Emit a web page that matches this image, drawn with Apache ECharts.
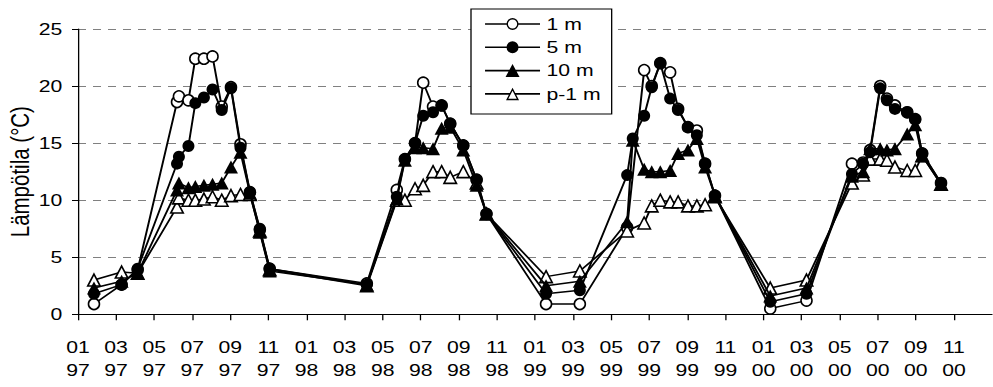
<!DOCTYPE html>
<html>
<head>
<meta charset="utf-8">
<title>Lämpötila 1997–2000</title>
<script src="https://cdn.jsdelivr.net/npm/echarts@6/dist/echarts.min.js"></script>
<style>
  html, body { margin: 0; padding: 0; background: #fff; overflow: hidden; }
  #wrap { width: 993px; height: 387px; overflow: hidden; }
  #chart { width: 764px; height: 387px; transform-origin: 0 0; }
</style>
</head>
<body>
<div id="wrap"><div id="chart"></div></div>
<script>
// Sampling dates (ISO)
const sampleDates = [
  '1997-01-27', '1997-03-10', '1997-04-05', '1997-06-07', '1997-06-10', '1997-06-25',
  '1997-07-06', '1997-07-20', '1997-08-03', '1997-08-18', '1997-09-02', '1997-09-17',
  '1997-10-02', '1997-10-18', '1997-11-03',
  '1998-04-06', '1998-05-24', '1998-06-06', '1998-06-22', '1998-07-05', '1998-07-21',
  '1998-08-04', '1998-08-18', '1998-09-08', '1998-09-29', '1998-10-15',
  '1999-01-19', '1999-03-12', '1999-05-27', '1999-06-05', '1999-06-23', '1999-07-05',
  '1999-07-19', '1999-08-04', '1999-08-17', '1999-09-02', '1999-09-16', '1999-09-29',
  '1999-10-15',
  '2000-01-12', '2000-03-09', '2000-05-21', '2000-06-08', '2000-06-19', '2000-07-05',
  '2000-07-16', '2000-07-29', '2000-08-18', '2000-08-31', '2000-09-11', '2000-10-11'
];

// Water temperature (°C) per depth; null = no measurement
const temp1m = [
  0.9, 2.6, 3.9, 18.6, 19.1, 18.75, 22.4, 22.4, 22.6, 18.2, 19.9, 14.9, 10.7, 7.4, 4.0,
  2.7, 10.9, 13.6, 15.0, 20.3, 18.2, 18.3, 16.7, 14.8, 11.8, 8.8,
  0.9, 0.9, 7.6, null, 21.4, 20.0, 22.0, 21.2, 18.0, 16.4, 16.1, 13.2, 10.4,
  0.5, 1.2, 13.2, 13.3, 14.4, 20.0, 18.9, 18.3, 17.7, 17.1, 14.1, 11.5
];
const temp5m = [
  1.8, 2.6, 4.0, 13.2, 13.8, 14.75, 18.5, 19.0, 19.7, 17.9, 19.8, 14.6, 10.7, 7.5, 4.0,
  2.6, 10.3, 13.6, 15.0, 17.4, 17.7, 18.3, 16.7, 14.8, 11.8, 8.8,
  1.8, 2.1, 12.2, 15.4, 17.4, 19.9, 22.0, 18.9, 17.9, 16.4, 15.7, 13.2, 10.4,
  1.1, 1.8, 12.3, 13.2, 14.2, 19.8, 18.75, 18.0, 17.7, 17.1, 14.1, 11.5
];
const temp10m = [
  2.3, 2.9, 3.6, 10.9, 11.5, 11.1, 11.2, 11.3, 11.4, 11.5, 12.9, 14.2, 10.6, 7.2, 3.8,
  2.6, 10.1, 13.5, 14.6, 14.6, 14.5, 16.3, 16.4, 14.4, 11.3, 8.8,
  2.5, 2.9, 8.1, 15.25, 12.7, 12.5, 12.5, 12.6, 14.1, 14.4, 15.4, 12.9, 10.4,
  1.6, 2.3, 12.1, 12.5, 14.5, 14.5, 14.4, 14.5, 15.8, 16.6, 13.9, 11.4
];
const tempP1m = [
  3.0, 3.7, 3.6, 9.4, 10.2, 10.0, 10.0, 10.1, 10.3, 10.0, 10.4, 10.5, 10.5, 7.3, 3.9,
  2.5, 10.0, 10.0, 11.0, 11.3, 12.5, 12.5, 12.0, 12.5, 11.5, 8.8,
  3.3, 3.8, 7.3, null, 8.0, 9.5, 10.0, 9.85, 9.85, 9.5, 9.5, 9.6, 10.3,
  2.3, 3.0, 11.5, 12.2, 13.6, 13.6, 13.5, 12.9, 12.6, 12.6, 13.9, 11.4
];

const seriesNames = ['1 m', '5 m', '10 m', 'p-1 m'];
const yTicks = [0, 5, 10, 15, 20, 25];

// x axis runs in months since January 1997, ticks every second month
const X_START_YEAR = 1997;
const X_MONTHS = 48;

// ---------------------------------------------------------------------------
// The drawing is laid out on a narrower surface and widened horizontally,
// which gives the wide lettering; symbols are pre-compressed to stay round.
const SX = 993 / 764;
document.getElementById('chart').style.transform = 'scaleX(' + SX + ')';
const FONT = '"Liberation Sans", Arial, Helvetica, sans-serif';

function monthPos(iso) {
  const [y, m, d] = iso.split('-').map(Number);
  const dim = new Date(y, m, 0).getDate();
  return (y - X_START_YEAR) * 12 + (m - 1) + (d - 1) / dim;
}
function toPoints(values) {
  const pts = [];
  sampleDates.forEach((d, i) => {
    if (values[i] !== null && values[i] !== undefined) pts.push([monthPos(d), values[i]]);
  });
  return pts;
}
const pad2 = n => String(n).padStart(2, '0');

// ---- legend icons: line sample with a marker, built as paths ----
const LW = 55, CY = 6.5, HALF = 0.8;
const sx = v => (v / SX).toFixed(3);
function rectPath(x0, x1) {
  return 'M' + sx(x0) + ' ' + (CY - HALF) + 'L' + sx(x1) + ' ' + (CY - HALF) +
         'L' + sx(x1) + ' ' + (CY + HALF) + 'L' + sx(x0) + ' ' + (CY + HALF) + 'Z';
}
function ellipsePath(r, clockwise) {
  const c = LW / 2, f = clockwise ? 1 : 0;
  return 'M' + sx(c - r) + ' ' + CY + 'A' + sx(r) + ' ' + r + ' 0 1 ' + f + ' ' + sx(c + r) + ' ' + CY +
         'A' + sx(r) + ' ' + r + ' 0 1 ' + f + ' ' + sx(c - r) + ' ' + CY + 'Z';
}
function triPath(pts, clockwise) {
  const p = clockwise ? pts : pts.slice().reverse();
  return 'M' + p.map(q => sx(q[0]) + ' ' + q[1]).join('L') + 'Z';
}
function triangle(a, h, top) {
  const c = LW / 2;
  return [[c, top], [c + a, top + h], [c - a, top + h]];
}
function innerTriangle(a, h, top, t) {
  const c = LW / 2;
  const L = Math.sqrt(a * a + h * h);
  const r = a * h / (a + L);
  const iy = top + h - r;
  const k = (r - t) / r;
  return triangle(a, h, top).map(p => [c + (p[0] - c) * k, iy + (p[1] - iy) * k]);
}
const c0 = LW / 2;
const iconOpenCircle = 'path://' + rectPath(0, c0 - 5.3) + ellipsePath(6, true) +
  ellipsePath(4.6, false) + rectPath(c0 + 5.3, LW);
const iconFilledCircle = 'path://' + rectPath(0, LW) + ellipsePath(6, true);
const iconFilledTri = 'path://' + rectPath(0, LW) + triPath(triangle(7, 13, 0), true);
const iconOpenTri = 'path://' + rectPath(0, c0 - 2.5) +
  triPath(triangle(6.5, 12.5, 0.25), true) +
  triPath(innerTriangle(6.5, 12.5, 0.25, 1.4), false) + rectPath(c0 + 2.5, LW);

const markerStyle = {
  '1 m':   { symbol: 'circle',   size: [11 / SX, 11],   fill: '#fff', bw: 1.4, icon: iconOpenCircle },
  '5 m':   { symbol: 'circle',   size: [12 / SX, 12],   fill: '#000', bw: 0,   icon: iconFilledCircle },
  '10 m':  { symbol: 'triangle', size: [14 / SX, 13],   fill: '#000', bw: 0,   icon: iconFilledTri },
  'p-1 m': { symbol: 'triangle', size: [12.5 / SX, 12], fill: '#fff', bw: 1.4, icon: iconOpenTri }
};
const seriesValues = { '1 m': temp1m, '5 m': temp5m, '10 m': temp10m, 'p-1 m': tempP1m };

// stacking order of the drawn lines (later = on top)
const drawOrder = ['1 m', 'p-1 m', '5 m', '10 m'];

const series = drawOrder.map((name, i) => {
  const st = markerStyle[name];
  return {
    name,
    type: 'line',
    data: toPoints(seriesValues[name]),
    symbol: st.symbol,
    symbolSize: st.size,
    showSymbol: true,
    z: 2 + i,
    clip: false,
    lineStyle: { color: '#000', width: 1.5 },
    itemStyle: { color: st.fill, borderColor: '#000', borderWidth: st.bw, opacity: 1 },
    emphasis: { disabled: true },
    animation: false
  };
});

const chart = echarts.init(document.getElementById('chart'), null, { renderer: 'svg' });
chart.setOption({
  animation: false,
  backgroundColor: '#fff',
  textStyle: { fontFamily: FONT },
  grid: {
    left: 78 / SX,
    top: 29,
    width: (992 - 78) / SX,
    height: 285.3,
    containLabel: false,
    outerBoundsMode: 'none'
  },
  legend: {
    show: true,
    orient: 'vertical',
    left: 471 / SX,
    top: 9,
    padding: [7, 8.5, 12, 10.8],
    itemWidth: LW / SX,
    itemHeight: 13,
    itemGap: 7.3,
    selectedMode: false,
    backgroundColor: '#fff',
    borderColor: '#000',
    borderWidth: 1,
    borderRadius: 0,
    textStyle: { fontFamily: FONT, fontSize: 16.3, color: '#000', lineHeight: 14 },
    data: seriesNames.map(name => ({
      name,
      icon: markerStyle[name].icon,
      itemStyle: { color: '#000', borderWidth: 0 }
    }))
  },
  xAxis: {
    type: 'value',
    min: 0,
    max: X_MONTHS,
    interval: 2,
    axisLine: { show: true, onZero: true, lineStyle: { color: '#000', width: 1 } },
    axisTick: { show: true, inside: false, length: 6, lineStyle: { color: '#000', width: 1 } },
    splitLine: { show: false },
    axisLabel: {
      show: true,
      margin: 21,
      fontFamily: FONT,
      fontSize: 16.3,
      lineHeight: 23.5,
      color: '#000',
      showMaxLabel: false,
      hideOverlap: false,
      formatter: v => {
        if (v >= X_MONTHS) return '';
        const month = (v % 12) + 1;
        const year = (X_START_YEAR + Math.floor(v / 12)) % 100;
        return pad2(month) + '\n' + pad2(year);
      }
    }
  },
  yAxis: {
    type: 'value',
    min: yTicks[0],
    max: yTicks[yTicks.length - 1],
    interval: yTicks[1] - yTicks[0],
    name: 'Lämpötila (°C)',
    nameLocation: 'middle',
    nameRotate: 90,
    nameGap: 34.5,
    nameMoveOverlap: false,
    nameTextStyle: { fontFamily: FONT, fontSize: 20.5, color: '#000' },
    axisLine: { show: true, lineStyle: { color: '#000', width: 1 } },
    axisTick: { show: true, inside: false, length: 6 / SX, lineStyle: { color: '#000', width: 1 } },
    splitLine: {
      show: true,
      lineStyle: { color: '#808080', width: 1, type: [8 / SX, 7 / SX] }
    },
    axisLabel: { margin: 12, fontFamily: FONT, fontSize: 16.3, color: '#000' }
  },
  series
});
</script>
</body>
</html>
